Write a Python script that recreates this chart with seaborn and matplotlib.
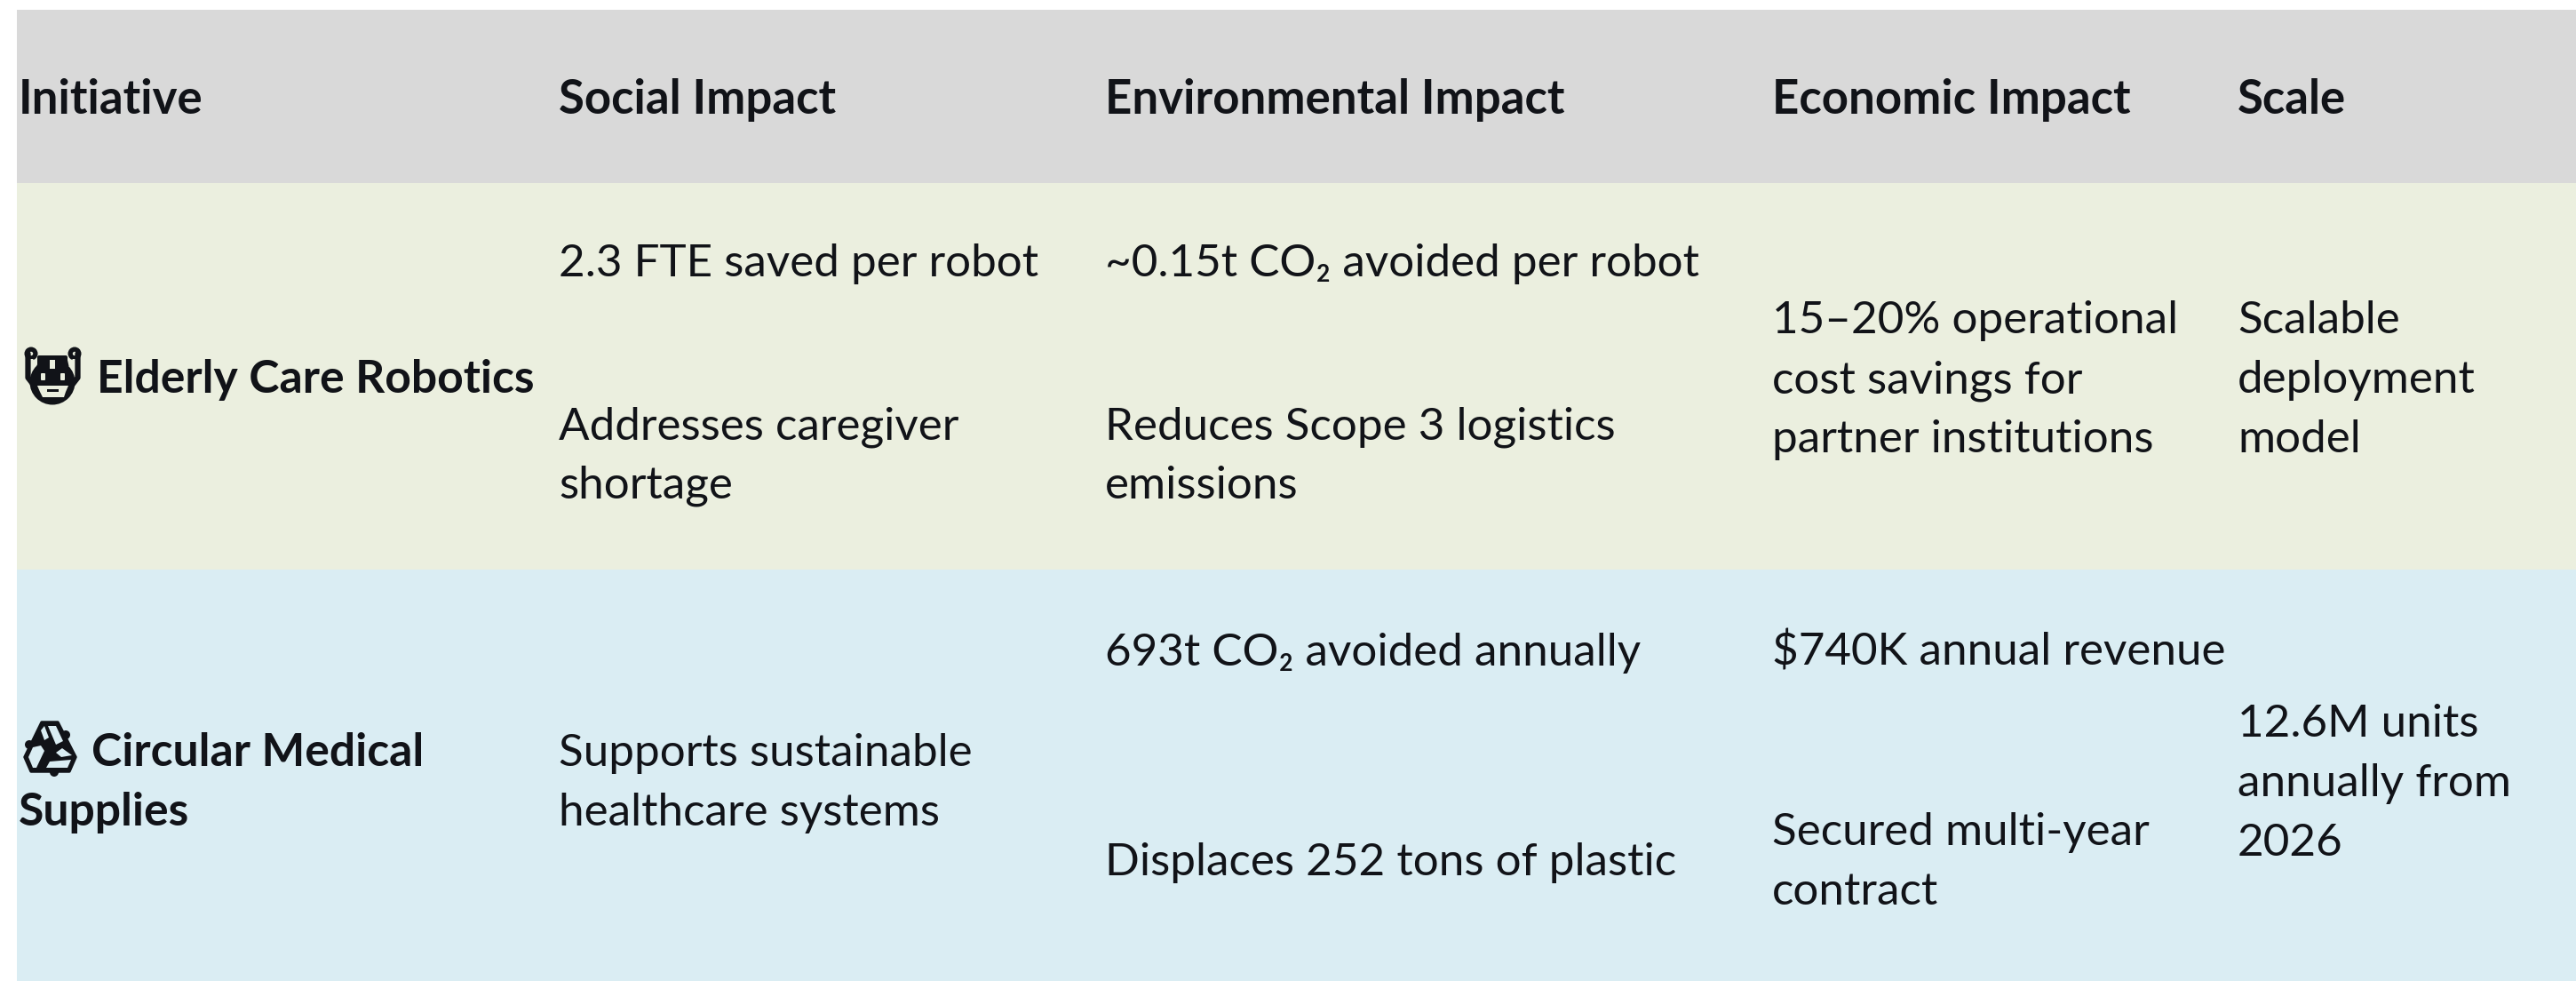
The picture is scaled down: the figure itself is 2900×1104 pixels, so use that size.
import numpy as np
import matplotlib
matplotlib.use("Agg")
import matplotlib.pyplot as plt
from matplotlib.colors import ListedColormap
from matplotlib.patches import Circle, Polygon, Rectangle, FancyBboxPatch
import seaborn as sns

headers = ["Initiative", "Social Impact", "Environmental Impact", "Economic Impact", "Scale"]
row_names = ["Elderly Care Robotics", ["Circular Medical", "Supplies"]]
social = [["2.3 FTE saved per robot", "Addresses caregiver", "shortage"],
          ["Supports sustainable", "healthcare systems"]]
environmental = [["~0.15t CO₂ avoided per robot", "Reduces Scope 3 logistics", "emissions"],
                 ["693t CO₂ avoided annually", "Displaces 252 tons of plastic"]]
economic = [["15–20% operational", "cost savings for", "partner institutions"],
            ["$740K annual revenue", "Secured multi-year", "contract"]]
scale = [["Scalable", "deployment", "model"],
         ["12.6M units", "annually from", "2026"]]
band_colors = ["#D9D9D9", "#EBEFDF", "#DAEDF3"]
band_edges = [11, 206, 641, 1104]

W, H = 2900, 1104
sns.set_theme(style="white")
plt.rcParams["font.family"] = ["Lato", "Open Sans", "DejaVu Sans"]
INK = "#111318"
FS_BODY = 36.8
FS_HEAD = 38.0
FS_NAME = 37.2

fig = plt.figure(figsize=(W / 100, H / 100), dpi=100, facecolor="white")
ax_bg = fig.add_axes([19 / W, 0, (W - 19) / W, (H - band_edges[0]) / H])
codes = np.repeat(np.arange(3), np.diff(band_edges)).reshape(-1, 1)
sns.heatmap(codes, cmap=ListedColormap(band_colors), cbar=False, ax=ax_bg,
            xticklabels=False, yticklabels=False, vmin=-0.5, vmax=2.5)

ax = fig.add_axes([0, 0, 1, 1])
ax.set_xlim(0, W)
ax.set_ylim(H, 0)
ax.axis("off")
ax.patch.set_alpha(0)


def put(x, y, s, size=FS_BODY, bold=False):
    ax.text(x, y, s, fontsize=size, color=INK, va="baseline", ha="left",
            fontweight="bold" if bold else "normal")


col_x = [21, 629, 1244, 1995, 2519]
for x, s in zip(col_x, headers):
    put(x, 128, s, FS_HEAD, True)

put(109, 442, row_names[0], FS_NAME, True)
put(103, 862, row_names[1][0], FS_NAME, True)
put(21, 929, row_names[1][1], FS_NAME, True)

for s, y in zip(social[0], [311, 494, 561]):
    put(col_x[1], y, s)
for s, y in zip(social[1], [862, 929]):
    put(col_x[1], y, s)
for s, y in zip(environmental[0], [311, 494, 561]):
    put(col_x[2], y, s)
for s, y in zip(environmental[1], [749, 985]):
    put(col_x[2], y, s)
for s, y in zip(economic[0], [375, 442, 509]):
    put(col_x[3], y, s)
for s, y in zip(economic[1], [749, 951, 1018]):
    put(col_x[3], y, s)
for s, y in zip(scale[0], [375, 442, 509]):
    put(col_x[4], y, s)
for s, y in zip(scale[1], [829, 896, 963]):
    put(col_x[4], y, s)

# robot icon
G = band_colors[1]
ax.add_patch(Circle((59, 430), 25.5, fc=INK, ec="none"))
ax.add_patch(FancyBboxPatch((44, 402), 30, 25, boxstyle="round,pad=2", fc=INK, ec="none"))
for sx in (-1, 1):
    cx = 59.5 + sx * 24.5
    ax.add_patch(Circle((cx, 398), 7.5, fc=INK, ec="none"))
    ax.add_patch(Circle((cx, 398), 2.2, fc=G, ec="none"))
    ax.plot([59.5 + sx * 28, 59.5 + sx * 28, 59.5 + sx * 21],
            [398, 425, 434], color=INK, lw=4.5, solid_capstyle="round")
    # gap between antenna and head
    ax.add_patch(Polygon([(59.5 + sx * 22, 404), (59.5 + sx * 25.5, 404),
                          (59.5 + sx * 25.5, 420), (59.5 + sx * 22.5, 414)], fc=G, ec="none"))
    # eyes
    ax.add_patch(FancyBboxPatch((59.5 + sx * 11 - 1.5, 421), 3, 6, boxstyle="round,pad=1", fc=G, ec="none"))
    # forehead side slots
    ax.add_patch(Polygon([(59.5 + sx * 11, 403), (59.5 + sx * 16, 403),
                          (59.5 + sx * 18, 412), (59.5 + sx * 11, 412)], fc=INK, ec="none"))
ax.add_patch(Rectangle((56.5, 405), 6, 10, fc=G, ec="none"))
ax.add_patch(Polygon([(42, 434), (77, 434), (74, 441), (72, 447), (48, 447), (45, 441)], fc=G, ec="none"))
ax.add_patch(Rectangle((53, 437.5), 13, 3, fc=INK, ec="none"))

# recycle icon
B = band_colors[2]
hexa = [(47, 813), (65, 813), (85, 852), (78, 868), (35, 868), (28, 852)]
ax.add_patch(Polygon(hexa, closed=True, fc=INK, ec=INK, lw=2.5, joinstyle="round"))
for c in [(74, 827), (33, 838), (61, 869)]:
    ax.add_patch(Circle(c, 5, fc=INK, ec="none"))
for poly in [
    [(46, 822), (50, 817), (55, 830), (50, 833)],
    [(54, 817), (63, 817), (71, 834), (63, 838)],
    [(37, 841), (46, 839), (50, 845), (41, 864), (37, 864), (32, 852)],
    [(56, 857), (80, 855), (76, 864), (52, 864)],
    [(63, 847), (70, 842), (81, 850), (69, 852)],
]:
    ax.add_patch(Polygon(poly, closed=True, fc=B, ec="none"))

fig.savefig("out.png", dpi=100)
